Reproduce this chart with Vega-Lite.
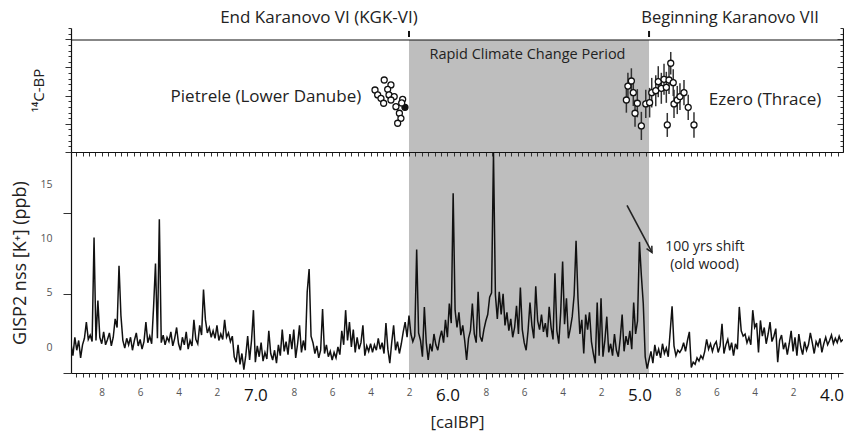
{
"$schema":"https://vega.github.io/schema/vega-lite/v6.json",
"padding":{"left":11,"top":8,"right":0,"bottom":12},
"config":{"font":"Open Sans","view":{"stroke":null},"axis":{"grid":false,"domainColor":"#111","tickColor":"#333","titleFontWeight":"normal","titleColor":"#222","titleFont":"Open Sans","labelFont":"Open Sans"},"text":{"font":"Open Sans"}},
"data":{"values":[{}]},
"datasets":{
"period":[{"start":6.2,"end":4.95}],
"c14":[
{"site":"Pietrele","t":6.329,"c14":6111,"err":0,"filled":false},
{"site":"Pietrele","t":6.294,"c14":6076,"err":0,"filled":false},
{"site":"Pietrele","t":6.377,"c14":6040,"err":0,"filled":false},
{"site":"Pietrele","t":6.311,"c14":6045,"err":0,"filled":false},
{"site":"Pietrele","t":6.363,"c14":6005,"err":0,"filled":false},
{"site":"Pietrele","t":6.346,"c14":5981,"err":0,"filled":false},
{"site":"Pietrele","t":6.304,"c14":6005,"err":0,"filled":false},
{"site":"Pietrele","t":6.277,"c14":5993,"err":0,"filled":false},
{"site":"Pietrele","t":6.332,"c14":5946,"err":0,"filled":false},
{"site":"Pietrele","t":6.294,"c14":5969,"err":0,"filled":false},
{"site":"Pietrele","t":6.233,"c14":5974,"err":0,"filled":false},
{"site":"Pietrele","t":6.268,"c14":5922,"err":0,"filled":false},
{"site":"Pietrele","t":6.221,"c14":5917,"err":0,"filled":true},
{"site":"Pietrele","t":6.250,"c14":5875,"err":0,"filled":false},
{"site":"Pietrele","t":6.242,"c14":5839,"err":0,"filled":false},
{"site":"Pietrele","t":6.259,"c14":5804,"err":0,"filled":false},
{"site":"Pietrele","t":6.238,"c14":5948,"err":0,"filled":false},
{"site":"Ezero","t":5.068,"c14":5969,"err":90,"filled":false},
{"site":"Ezero","t":5.060,"c14":6068,"err":95,"filled":false},
{"site":"Ezero","t":5.042,"c14":6104,"err":90,"filled":false},
{"site":"Ezero","t":5.032,"c14":6021,"err":95,"filled":false},
{"site":"Ezero","t":5.011,"c14":5946,"err":100,"filled":false},
{"site":"Ezero","t":5.023,"c14":5875,"err":95,"filled":false},
{"site":"Ezero","t":4.990,"c14":5785,"err":100,"filled":false},
{"site":"Ezero","t":4.967,"c14":5941,"err":100,"filled":false},
{"site":"Ezero","t":4.947,"c14":5950,"err":105,"filled":false},
{"site":"Ezero","t":4.936,"c14":6021,"err":105,"filled":false},
{"site":"Ezero","t":4.915,"c14":6035,"err":110,"filled":false},
{"site":"Ezero","t":4.902,"c14":6099,"err":110,"filled":false},
{"site":"Ezero","t":4.886,"c14":6052,"err":110,"filled":false},
{"site":"Ezero","t":4.872,"c14":6116,"err":110,"filled":false},
{"site":"Ezero","t":4.860,"c14":6059,"err":110,"filled":false},
{"site":"Ezero","t":4.846,"c14":6111,"err":100,"filled":false},
{"site":"Ezero","t":4.837,"c14":6230,"err":80,"filled":false},
{"site":"Ezero","t":4.824,"c14":6092,"err":95,"filled":false},
{"site":"Ezero","t":4.820,"c14":5941,"err":100,"filled":false},
{"site":"Ezero","t":4.803,"c14":5969,"err":100,"filled":false},
{"site":"Ezero","t":4.789,"c14":5993,"err":95,"filled":false},
{"site":"Ezero","t":4.768,"c14":6021,"err":90,"filled":false},
{"site":"Ezero","t":4.855,"c14":5792,"err":85,"filled":false},
{"site":"Ezero","t":4.746,"c14":5917,"err":90,"filled":false},
{"site":"Ezero","t":4.716,"c14":5792,"err":90,"filled":false}
],
"gisp":[
{"t":7.96,"k":0.3},{"t":7.95,"k":-0.8},{"t":7.94,"k":0.9},{"t":7.93,"k":-0.3},{"t":7.92,"k":0.6},{"t":7.91,"k":-1.0},{"t":7.90,"k":0.2},
{"t":7.89,"k":0.8},{"t":7.88,"k":2.3},{"t":7.87,"k":0.7},{"t":7.86,"k":1.1},{"t":7.85,"k":0.5},{"t":7.84,"k":10.1},{"t":7.83,"k":0.6},{"t":7.82,"k":4.3},{"t":7.81,"k":0.9},{"t":7.80,"k":0.3},
{"t":7.79,"k":1.4},{"t":7.78,"k":0.2},{"t":7.77,"k":0.7},{"t":7.76,"k":1.3},{"t":7.75,"k":0.1},{"t":7.74,"k":0.9},{"t":7.73,"k":2.6},{"t":7.72,"k":1.8},{"t":7.71,"k":7.5},{"t":7.70,"k":2.9},
{"t":7.69,"k":0.6},{"t":7.68,"k":-0.1},{"t":7.67,"k":0.8},{"t":7.66,"k":0.2},{"t":7.65,"k":0.9},{"t":7.64,"k":-0.3},{"t":7.63,"k":0.6},{"t":7.62,"k":1.3},{"t":7.61,"k":0.1},{"t":7.60,"k":0.7},
{"t":7.59,"k":-0.2},{"t":7.58,"k":0.5},{"t":7.57,"k":2.3},{"t":7.56,"k":0.4},{"t":7.55,"k":1.0},{"t":7.54,"k":0.3},{"t":7.53,"k":3.7},{"t":7.52,"k":7.7},{"t":7.51,"k":0.8},{"t":7.50,"k":11.8},
{"t":7.49,"k":0.4},{"t":7.48,"k":1.1},{"t":7.47,"k":0.2},{"t":7.46,"k":0.9},{"t":7.45,"k":0.5},{"t":7.44,"k":1.4},{"t":7.43,"k":0.1},{"t":7.42,"k":0.8},{"t":7.41,"k":1.8},{"t":7.40,"k":0.3},
{"t":7.39,"k":-0.3},{"t":7.38,"k":0.9},{"t":7.37,"k":0.2},{"t":7.36,"k":1.4},{"t":7.35,"k":-0.2},{"t":7.34,"k":0.6},{"t":7.33,"k":0.1},{"t":7.32,"k":2.5},{"t":7.31,"k":0.7},{"t":7.30,"k":0.3},
{"t":7.29,"k":2.0},{"t":7.28,"k":1.1},{"t":7.27,"k":5.3},{"t":7.26,"k":2.5},{"t":7.25,"k":1.3},{"t":7.24,"k":1.8},{"t":7.23,"k":0.9},{"t":7.22,"k":1.5},{"t":7.21,"k":0.8},{"t":7.20,"k":2.0},
{"t":7.19,"k":0.6},{"t":7.18,"k":1.2},{"t":7.17,"k":0.7},{"t":7.16,"k":2.5},{"t":7.15,"k":0.9},{"t":7.14,"k":1.3},{"t":7.13,"k":0.5},{"t":7.12,"k":1.0},{"t":7.11,"k":-0.9},{"t":7.10,"k":-1.4},
{"t":7.09,"k":0.2},{"t":7.08,"k":-1.6},{"t":7.07,"k":-0.6},{"t":7.06,"k":-2.1},{"t":7.05,"k":-0.8},{"t":7.04,"k":1.0},{"t":7.03,"k":-1.2},{"t":7.02,"k":0.6},{"t":7.01,"k":3.4},{"t":7.00,"k":-1.4},
{"t":6.99,"k":0.1},{"t":6.98,"k":-0.9},{"t":6.97,"k":0.4},{"t":6.96,"k":-1.3},{"t":6.95,"k":-0.5},{"t":6.94,"k":-1.1},{"t":6.93,"k":1.5},{"t":6.92,"k":-0.6},{"t":6.91,"k":-1.2},{"t":6.90,"k":-0.3},
{"t":6.89,"k":-1.5},{"t":6.88,"k":0.2},{"t":6.87,"k":-0.8},{"t":6.86,"k":1.6},{"t":6.85,"k":-0.4},{"t":6.84,"k":0.5},{"t":6.83,"k":-0.7},{"t":6.82,"k":1.2},{"t":6.81,"k":-0.2},{"t":6.80,"k":1.6},
{"t":6.79,"k":-1.0},{"t":6.78,"k":0.3},{"t":6.77,"k":2.0},{"t":6.76,"k":-0.5},{"t":6.75,"k":0.6},{"t":6.74,"k":-0.3},{"t":6.73,"k":5.1},{"t":6.72,"k":7.2},{"t":6.71,"k":1.0},{"t":6.70,"k":0.4},
{"t":6.69,"k":-0.6},{"t":6.68,"k":0.1},{"t":6.67,"k":-1.0},{"t":6.66,"k":-0.3},{"t":6.65,"k":3.5},{"t":6.64,"k":-0.6},{"t":6.63,"k":0.2},{"t":6.62,"k":-0.9},{"t":6.61,"k":-0.4},{"t":6.60,"k":-1.2},
{"t":6.59,"k":-0.5},{"t":6.58,"k":-1.0},{"t":6.57,"k":0.0},{"t":6.56,"k":-0.7},{"t":6.55,"k":1.5},{"t":6.54,"k":0.2},{"t":6.53,"k":3.4},{"t":6.52,"k":0.6},{"t":6.51,"k":2.3},{"t":6.50,"k":0.0},
{"t":6.49,"k":1.6},{"t":6.48,"k":-0.5},{"t":6.47,"k":0.9},{"t":6.46,"k":-0.2},{"t":6.45,"k":0.4},{"t":6.44,"k":2.0},{"t":6.43,"k":-0.8},{"t":6.42,"k":0.1},{"t":6.41,"k":-0.4},{"t":6.40,"k":0.3},
{"t":6.39,"k":-0.5},{"t":6.38,"k":0.2},{"t":6.37,"k":-0.3},{"t":6.36,"k":0.8},{"t":6.35,"k":-0.2},{"t":6.34,"k":0.4},{"t":6.33,"k":-0.6},{"t":6.32,"k":2.2},{"t":6.31,"k":-0.2},{"t":6.30,"k":-1.5},
{"t":6.29,"k":0.4},{"t":6.28,"k":2.0},{"t":6.27,"k":-0.3},{"t":6.26,"k":0.5},{"t":6.25,"k":-0.6},{"t":6.24,"k":0.3},{"t":6.23,"k":1.4},{"t":6.22,"k":2.3},{"t":6.21,"k":0.9},{"t":6.20,"k":2.9},
{"t":6.19,"k":1.2},{"t":6.18,"k":0.5},{"t":6.17,"k":1.0},{"t":6.16,"k":9.0},{"t":6.15,"k":1.3},{"t":6.14,"k":0.6},{"t":6.13,"k":-0.9},{"t":6.12,"k":3.7},{"t":6.11,"k":0.4},{"t":6.10,"k":-1.2},
{"t":6.09,"k":0.3},{"t":6.08,"k":-0.4},{"t":6.07,"k":1.2},{"t":6.06,"k":0.2},{"t":6.05,"k":-0.3},{"t":6.04,"k":0.8},{"t":6.03,"k":1.5},{"t":6.02,"k":0.4},{"t":6.01,"k":2.5},{"t":6.00,"k":0.9},
{"t":5.99,"k":4.0},{"t":5.98,"k":2.2},{"t":5.97,"k":14.2},{"t":5.96,"k":3.4},{"t":5.95,"k":1.8},{"t":5.94,"k":3.2},{"t":5.93,"k":1.1},{"t":5.92,"k":2.0},{"t":5.91,"k":0.6},{"t":5.90,"k":-1.2},
{"t":5.89,"k":0.8},{"t":5.88,"k":1.5},{"t":5.87,"k":4.0},{"t":5.86,"k":1.2},{"t":5.85,"k":0.4},{"t":5.84,"k":5.1},{"t":5.83,"k":1.0},{"t":5.82,"k":0.5},{"t":5.81,"k":1.6},{"t":5.80,"k":2.4},
{"t":5.79,"k":3.0},{"t":5.78,"k":4.6},{"t":5.77,"k":5.0},{"t":5.76,"k":17.9},{"t":5.75,"k":4.8},{"t":5.74,"k":2.6},{"t":5.73,"k":5.1},{"t":5.72,"k":3.0},{"t":5.71,"k":4.9},{"t":5.70,"k":2.0},
{"t":5.69,"k":3.2},{"t":5.68,"k":1.5},{"t":5.67,"k":2.6},{"t":5.66,"k":0.9},{"t":5.65,"k":1.8},{"t":5.64,"k":3.8},{"t":5.63,"k":1.2},{"t":5.62,"k":5.5},{"t":5.61,"k":1.6},{"t":5.60,"k":0.4},
{"t":5.59,"k":-0.3},{"t":5.58,"k":1.5},{"t":5.57,"k":4.1},{"t":5.56,"k":2.0},{"t":5.55,"k":0.8},{"t":5.54,"k":5.6},{"t":5.53,"k":2.4},{"t":5.52,"k":1.6},{"t":5.51,"k":3.0},{"t":5.50,"k":1.4},
{"t":5.49,"k":2.2},{"t":5.48,"k":0.9},{"t":5.47,"k":3.7},{"t":5.46,"k":1.8},{"t":5.45,"k":0.7},{"t":5.44,"k":6.8},{"t":5.43,"k":1.5},{"t":5.42,"k":0.3},{"t":5.41,"k":3.2},{"t":5.40,"k":7.9},
{"t":5.39,"k":2.1},{"t":5.38,"k":4.5},{"t":5.37,"k":0.8},{"t":5.36,"k":1.7},{"t":5.35,"k":2.8},{"t":5.34,"k":4.8},{"t":5.33,"k":9.8},{"t":5.32,"k":4.5},{"t":5.31,"k":1.2},{"t":5.30,"k":2.5},
{"t":5.29,"k":-0.6},{"t":5.28,"k":3.0},{"t":5.27,"k":1.6},{"t":5.26,"k":3.2},{"t":5.25,"k":0.5},{"t":5.24,"k":-0.6},{"t":5.23,"k":-1.5},{"t":5.22,"k":4.1},{"t":5.21,"k":-0.8},{"t":5.20,"k":4.5},
{"t":5.19,"k":-0.9},{"t":5.18,"k":0.6},{"t":5.17,"k":2.8},{"t":5.16,"k":-0.5},{"t":5.15,"k":0.3},{"t":5.14,"k":-0.8},{"t":5.13,"k":1.2},{"t":5.12,"k":-0.3},{"t":5.11,"k":-0.9},{"t":5.10,"k":0.8},
{"t":5.09,"k":3.0},{"t":5.08,"k":-0.4},{"t":5.07,"k":1.0},{"t":5.06,"k":0.2},{"t":5.05,"k":1.5},{"t":5.04,"k":-0.2},{"t":5.03,"k":4.1},{"t":5.02,"k":1.2},{"t":5.01,"k":2.4},{"t":5.00,"k":9.7},
{"t":4.99,"k":6.6},{"t":4.98,"k":4.0},{"t":4.97,"k":-0.9},{"t":4.96,"k":-2.0},{"t":4.95,"k":-1.2},{"t":4.94,"k":-0.4},{"t":4.93,"k":-1.5},{"t":4.92,"k":0.2},{"t":4.91,"k":-0.8},{"t":4.90,"k":-0.2},
{"t":4.89,"k":-1.0},{"t":4.88,"k":0.3},{"t":4.87,"k":-0.6},{"t":4.86,"k":-0.1},{"t":4.85,"k":-0.9},{"t":4.84,"k":1.4},{"t":4.83,"k":3.75},{"t":4.82,"k":0.1},{"t":4.81,"k":-0.8},{"t":4.80,"k":-0.3},
{"t":4.79,"k":-0.5},{"t":4.78,"k":-0.2},{"t":4.77,"k":0.4},{"t":4.76,"k":-0.4},{"t":4.75,"k":0.6},{"t":4.74,"k":1.4},{"t":4.73,"k":-1.9},{"t":4.72,"k":-1.4},{"t":4.71,"k":-1.6},{"t":4.70,"k":-1.0},
{"t":4.69,"k":-1.3},{"t":4.68,"k":-0.8},{"t":4.67,"k":-1.1},{"t":4.66,"k":-0.4},{"t":4.65,"k":0.7},{"t":4.64,"k":-0.2},{"t":4.63,"k":0.3},{"t":4.62,"k":-0.4},{"t":4.61,"k":0.2},{"t":4.60,"k":0.5},
{"t":4.59,"k":-0.5},{"t":4.58,"k":0.1},{"t":4.57,"k":2.15},{"t":4.56,"k":-0.6},{"t":4.55,"k":0.2},{"t":4.54,"k":0.7},{"t":4.53,"k":-0.3},{"t":4.52,"k":0.4},{"t":4.51,"k":-0.8},{"t":4.50,"k":0.3},
{"t":4.49,"k":-0.2},{"t":4.48,"k":3.7},{"t":4.47,"k":1.5},{"t":4.46,"k":1.0},{"t":4.45,"k":1.2},{"t":4.44,"k":0.4},{"t":4.43,"k":0.9},{"t":4.42,"k":0.2},{"t":4.41,"k":3.4},{"t":4.40,"k":1.8},
{"t":4.39,"k":2.2},{"t":4.38,"k":-0.5},{"t":4.37,"k":2.45},{"t":4.36,"k":1.0},{"t":4.35,"k":1.8},{"t":4.34,"k":0.3},{"t":4.33,"k":1.2},{"t":4.32,"k":2.3},{"t":4.31,"k":0.5},{"t":4.30,"k":1.0},
{"t":4.29,"k":1.7},{"t":4.28,"k":-1.4},{"t":4.27,"k":0.6},{"t":4.26,"k":1.1},{"t":4.25,"k":-0.2},{"t":4.24,"k":0.4},{"t":4.23,"k":-0.7},{"t":4.22,"k":0.3},{"t":4.21,"k":1.5},{"t":4.20,"k":-0.4},
{"t":4.19,"k":0.9},{"t":4.18,"k":-0.8},{"t":4.17,"k":1.2},{"t":4.16,"k":0.0},{"t":4.15,"k":-0.7},{"t":4.14,"k":0.5},{"t":4.13,"k":-0.3},{"t":4.12,"k":0.2},{"t":4.11,"k":1.3},{"t":4.10,"k":0.4},
{"t":4.09,"k":-0.6},{"t":4.08,"k":0.5},{"t":4.07,"k":0.1},{"t":4.06,"k":0.8},{"t":4.05,"k":-0.5},{"t":4.04,"k":0.3},{"t":4.03,"k":0.9},{"t":4.02,"k":0.2},{"t":4.01,"k":0.6},{"t":4.00,"k":1.1},
{"t":3.99,"k":0.3},{"t":3.98,"k":0.8},{"t":3.97,"k":0.4},{"t":3.96,"k":1.0},{"t":3.95,"k":0.5},{"t":3.94,"k":0.7}
]
},
"spacing":0,
"bounds":"flush",
"vconcat":[
{
"width":772,"height":124,
"resolve":{"axis":{"y":"independent"}},
"layer":[
{"data":{"name":"period"},"mark":{"type":"rect","color":"#bebebe"},
 "encoding":{
  "x":{"field":"start","type":"quantitative","scale":{"domain":[3.94,7.96],"reverse":true,"nice":false,"zero":false},"axis":{"orient":"bottom","ticks":false,"labels":false,"title":null,"domainWidth":1.2}},
  "x2":{"field":"end"},
  "y":{"datum":5600,"type":"quantitative","scale":{"domain":[5600,6480],"nice":false,"zero":false},"axis":{"orient":"left","values":[5600,5640,5680,5720,5760,5800,5840,5880,5920,5960,6000,6040,6080,6120,6160,6200,6240,6280,6320,6360,6400,6440,6480],"labels":false,"tickSize":{"condition":{"test":"datum.value % 200 == 0","value":6},"value":3},"title":"¹⁴C-BP","titleFontSize":15,"titlePadding":18,"domainWidth":1.2}},
  "y2":{"datum":6395}}},
{"mark":{"type":"rule","color":"#111","strokeWidth":1.2},
 "encoding":{"y":{"datum":6395,"type":"quantitative","axis":{"orient":"right","values":[5600,5640,5680,5720,5760,5800,5840,5880,5920,5960,6000,6040,6080,6120,6160,6200,6240,6280,6320,6360,6400,6440,6480],"labels":false,"tickSize":{"condition":{"test":"datum.value % 200 == 0","value":-6},"value":-3},"title":null,"domainWidth":1.2,"zindex":1}}}},
{"mark":{"type":"rule","color":"#111","strokeWidth":2},
 "encoding":{"x":{"datum":6.2,"type":"quantitative","axis":null},"y":{"datum":6416,"type":"quantitative","axis":null},"y2":{"datum":6459}}},
{"mark":{"type":"rule","color":"#111","strokeWidth":2},
 "encoding":{"x":{"datum":4.95,"type":"quantitative","axis":null},"y":{"datum":6416,"type":"quantitative","axis":null},"y2":{"datum":6459}}},
{"data":{"name":"c14"},"transform":[{"filter":"datum.site == 'Ezero'"}],
 "mark":{"type":"errorbar","color":"#333","thickness":1.5},
 "encoding":{"x":{"field":"t","type":"quantitative","axis":null},"y":{"field":"c14","type":"quantitative","axis":null},"yError":{"field":"err"}}},
{"data":{"name":"c14"},
 "mark":{"type":"point","shape":"circle","filled":true,"size":36,"stroke":"#111","strokeWidth":1.3,"opacity":1},
 "encoding":{"x":{"field":"t","type":"quantitative","axis":null},"y":{"field":"c14","type":"quantitative","axis":null},
  "fill":{"condition":{"test":"datum.filled","value":"#111"},"value":"white"}}},
{"mark":{"type":"text","text":"End Karanovo VI (KGK-VI)","fontSize":17,"color":"#222","align":"center","baseline":"middle"},
 "encoding":{"x":{"datum":6.669,"type":"quantitative","axis":null},"y":{"datum":6551,"type":"quantitative","axis":null}}},
{"mark":{"type":"text","text":"Beginning Karanovo VII","fontSize":16.5,"color":"#222","align":"center","baseline":"middle"},
 "encoding":{"x":{"datum":4.528,"type":"quantitative","axis":null},"y":{"datum":6551,"type":"quantitative","axis":null}}},
{"mark":{"type":"text","text":"Rapid Climate Change Period","fontSize":14.5,"color":"#222","align":"center","baseline":"middle"},
 "encoding":{"x":{"datum":5.583,"type":"quantitative","axis":null},"y":{"datum":6288,"type":"quantitative","axis":null}}},
{"mark":{"type":"text","text":"Pietrele (Lower Danube)","fontSize":17,"color":"#222","align":"center","baseline":"middle"},
 "encoding":{"x":{"datum":6.945,"type":"quantitative","axis":null},"y":{"datum":5993,"type":"quantitative","axis":null}}},
{"mark":{"type":"text","text":"Ezero (Thrace)","fontSize":17,"color":"#222","align":"center","baseline":"middle"},
 "encoding":{"x":{"datum":4.346,"type":"quantitative","axis":null},"y":{"datum":5969,"type":"quantitative","axis":null}}}
]
},
{
"width":772,"height":221,
"resolve":{"axis":{"x":"independent","y":"independent"}},
"layer":[
{"data":{"name":"period"},"mark":{"type":"rect","color":"#bebebe"},
 "encoding":{
  "x":{"field":"start","type":"quantitative","scale":{"domain":[3.94,7.96],"reverse":true,"nice":false,"zero":false},
   "axis":{"orient":"bottom","values":[3.9667,4,4.0333,4.0667,4.1,4.1333,4.1667,4.2,4.2333,4.2667,4.3,4.3333,4.3667,4.4,4.4333,4.4667,4.5,4.5333,4.5667,4.6,4.6333,4.6667,4.7,4.7333,4.7667,4.8,4.8333,4.8667,4.9,4.9333,4.9667,5,5.0333,5.0667,5.1,5.1333,5.1667,5.2,5.2333,5.2667,5.3,5.3333,5.3667,5.4,5.4333,5.4667,5.5,5.5333,5.5667,5.6,5.6333,5.6667,5.7,5.7333,5.7667,5.8,5.8333,5.8667,5.9,5.9333,5.9667,6,6.0333,6.0667,6.1,6.1333,6.1667,6.2,6.2333,6.2667,6.3,6.3333,6.3667,6.4,6.4333,6.4667,6.5,6.5333,6.5667,6.6,6.6333,6.6667,6.7,6.7333,6.7667,6.8,6.8333,6.8667,6.9,6.9333,6.9667,7,7.0333,7.0667,7.1,7.1333,7.1667,7.2,7.2333,7.2667,7.3,7.3333,7.3667,7.4,7.4333,7.4667,7.5,7.5333,7.5667,7.6,7.6333,7.6667,7.7,7.7333,7.7667,7.8,7.8333,7.8667,7.9,7.9333],
    "labelExpr":"abs(datum.value*5 - round(datum.value*5)) < 0.01 ? (abs(datum.value - round(datum.value)) < 0.01 ? format(datum.value, '.1f') : format(round(datum.value*10) % 10, 'd')) : ''",
    "labelFontSize":{"condition":{"test":"abs(datum.value - round(datum.value)) < 0.01","value":17},"value":10},
    "labelColor":{"condition":{"test":"abs(datum.value - round(datum.value)) < 0.01","value":"#111"},"value":"#555"},
    "tickSize":{"condition":{"test":"abs(datum.value*5 - round(datum.value*5)) < 0.01","value":6},"value":4},
    "labelPadding":8,"labelBaseline":"top","labelOverlap":false,"labelFlush":false,
    "title":"[calBP]","titleFontSize":17,"titlePadding":11,"domainWidth":1.2}},
  "x2":{"field":"end"},
  "y":{"datum":-2.4,"type":"quantitative","scale":{"domain":[-2.4,18],"nice":false,"zero":false},
   "axis":{"orient":"left","values":[0,5,10,15],"tickSize":0,"labelPadding":19,"labelFontSize":10.5,"labelColor":"#555","title":"GISP2 nss [K⁺] (ppb)","titleFontSize":18,"titlePadding":10,"domain":false}},
  "y2":{"datum":18}}},
{"data":{"name":"gisp"},
 "mark":{"type":"line","interpolate":"linear","color":"#111","strokeWidth":1.5,"clip":true},
 "encoding":{
  "x":{"field":"t","type":"quantitative","axis":{"orient":"top","values":[3.9667,4,4.0333,4.0667,4.1,4.1333,4.1667,4.2,4.2333,4.2667,4.3,4.3333,4.3667,4.4,4.4333,4.4667,4.5,4.5333,4.5667,4.6,4.6333,4.6667,4.7,4.7333,4.7667,4.8,4.8333,4.8667,4.9,4.9333,4.9667,5,5.0333,5.0667,5.1,5.1333,5.1667,5.2,5.2333,5.2667,5.3,5.3333,5.3667,5.4,5.4333,5.4667,5.5,5.5333,5.5667,5.6,5.6333,5.6667,5.7,5.7333,5.7667,5.8,5.8333,5.8667,5.9,5.9333,5.9667,6,6.0333,6.0667,6.1,6.1333,6.1667,6.2,6.2333,6.2667,6.3,6.3333,6.3667,6.4,6.4333,6.4667,6.5,6.5333,6.5667,6.6,6.6333,6.6667,6.7,6.7333,6.7667,6.8,6.8333,6.8667,6.9,6.9333,6.9667,7,7.0333,7.0667,7.1,7.1333,7.1667,7.2,7.2333,7.2667,7.3,7.3333,7.3667,7.4,7.4333,7.4667,7.5,7.5333,7.5667,7.6,7.6333,7.6667,7.7,7.7333,7.7667,7.8,7.8333,7.8667,7.9,7.9333],"labels":false,"tickSize":-4,"title":null,"domainWidth":1.2,"zindex":1}},
  "y":{"field":"k","type":"quantitative","axis":{"orient":"left","values":[-2.4,4.86,12.34],"labels":false,"tickSize":8,"title":null,"domainWidth":1.2,"zindex":1}}}},
{"mark":{"type":"rule","color":"#222","strokeWidth":1.6},
 "encoding":{"x":{"datum":5.0647,"type":"quantitative","axis":null},"y":{"datum":13.07,"type":"quantitative","axis":null},"x2":{"datum":4.9346},"y2":{"datum":8.73}}},
{"mark":{"type":"point","shape":"M-0.5,-1L0,0L0.5,-1","filled":false,"size":144,"color":"#222","strokeWidth":1.5,"angle":332,"opacity":1},
 "encoding":{"x":{"datum":4.9346,"type":"quantitative","axis":null},"y":{"datum":8.73,"type":"quantitative","axis":null}}},
{"mark":{"type":"text","text":"100 yrs shift","fontSize":14,"color":"#222","align":"center","baseline":"middle"},
 "encoding":{"x":{"datum":4.659,"type":"quantitative","axis":null},"y":{"datum":9.22,"type":"quantitative","axis":null}}},
{"mark":{"type":"text","text":"(old wood)","fontSize":14,"color":"#222","align":"center","baseline":"middle"},
 "encoding":{"x":{"datum":4.661,"type":"quantitative","axis":null},"y":{"datum":7.53,"type":"quantitative","axis":null}}}
]
}
]
}
